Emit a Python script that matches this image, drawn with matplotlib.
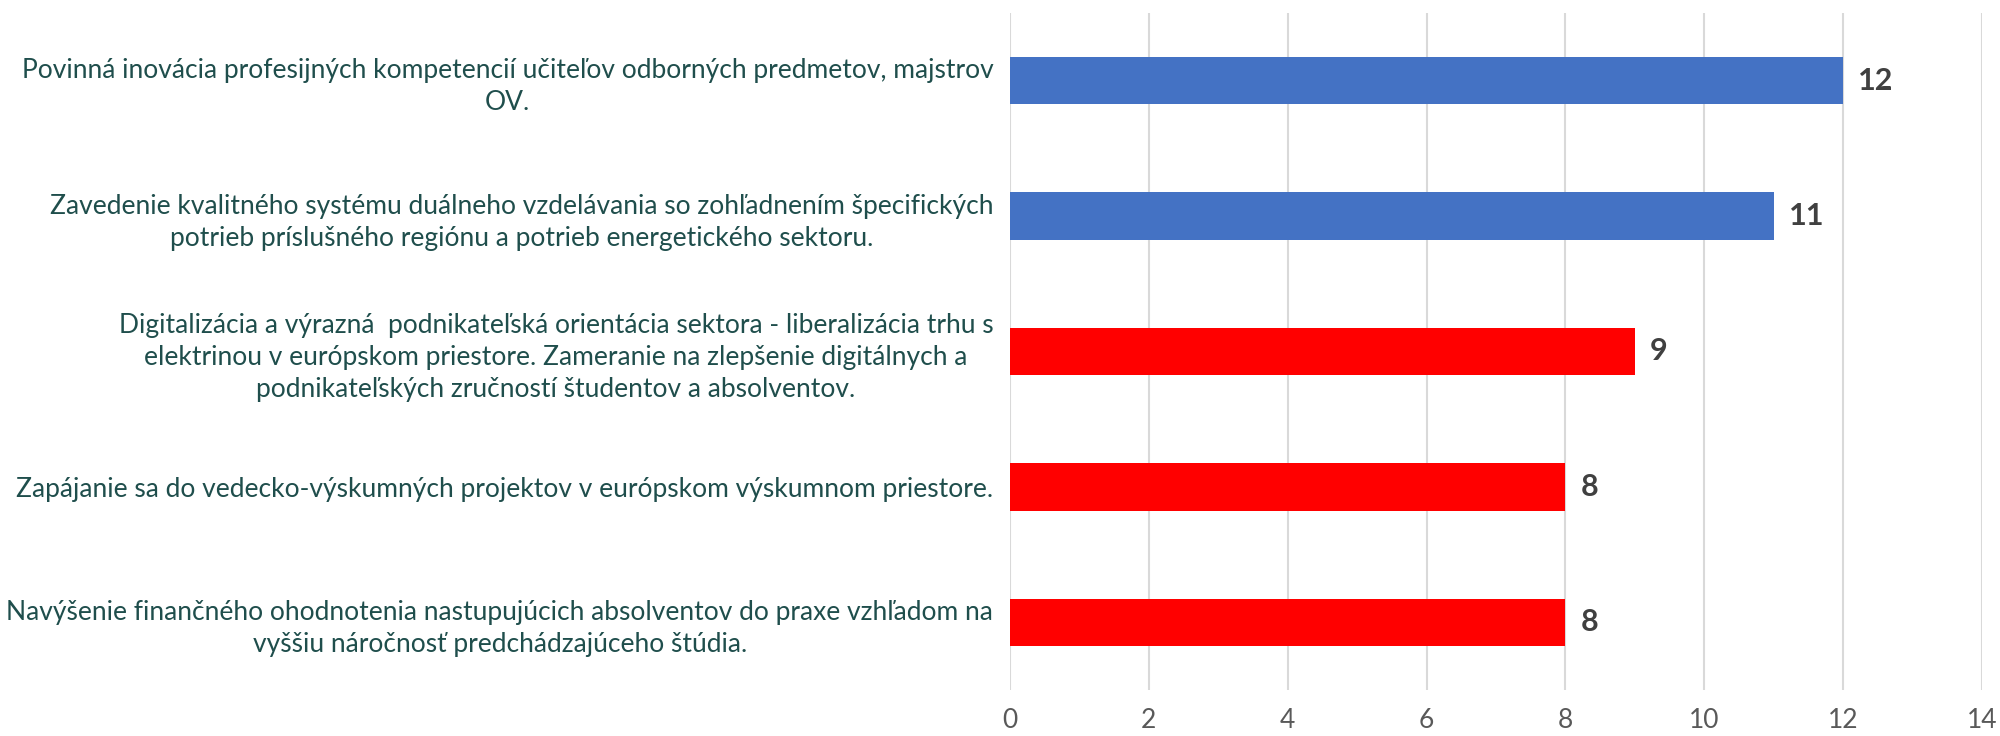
import matplotlib.pyplot as plt

categories = [
    "Povinná inovácia profesijných kompetencií učiteľov odborných predmetov, majstrov\nOV.",
    "Zavedenie kvalitného systému duálneho vzdelávania so zohľadnením špecifických\npotrieb príslušného regiónu a potrieb energetického sektoru.",
    "Digitalizácia a výrazná  podnikateľská orientácia sektora - liberalizácia trhu s\nelektrinou v európskom priestore. Zameranie na zlepšenie digitálnych a\npodnikateľských zručností študentov a absolventov.",
    "Zapájanie sa do vedecko-výskumných projektov v európskom výskumnom priestore.",
    "Navýšenie finančného ohodnotenia nastupujúcich absolventov do praxe vzhľadom na\nvyššiu náročnosť predchádzajúceho štúdia.",
]
values = [12, 11, 9, 8, 8]
bar_colors = ["#4472C4", "#4472C4", "#FF0000", "#FF0000", "#FF0000"]
xticks = [0, 2, 4, 6, 8, 10, 12, 14]

plt.rcParams['font.family'] = ['Lato', 'DejaVu Sans']

fig = plt.figure(figsize=(20, 7.36), dpi=100)
ax = fig.add_axes([0.505, 0.0625, 0.486, 0.92])

ypos = list(range(len(categories)))
ax.barh(ypos, values, height=0.35, color=bar_colors, zorder=3)
ax.set_ylim(-0.5, len(categories) - 0.5)
ax.invert_yaxis()
ax.set_xlim(0, 14)
ax.set_xticks(xticks)
ax.set_xticklabels([str(t) for t in xticks], fontsize=19, color="#595959")
ax.set_yticks(ypos)
ax.set_yticklabels(categories, fontsize=19, color="#1F4E4C", ha="right",
                   multialignment="center", linespacing=1.35)
ax.tick_params(axis="y", length=0, pad=12)
ax.tick_params(axis="x", length=0, pad=13)
ax.xaxis.grid(True, color="#D9D9D9", linewidth=1.5, zorder=0)
for s in ax.spines.values():
    s.set_visible(False)

for y, v in zip(ypos, values):
    ax.annotate(str(v), (v, y), xytext=(11, 0), textcoords="offset points",
                va="center", ha="left", fontsize=22, fontweight="bold",
                color="#404040")

fig.savefig("out.png", dpi=100)
